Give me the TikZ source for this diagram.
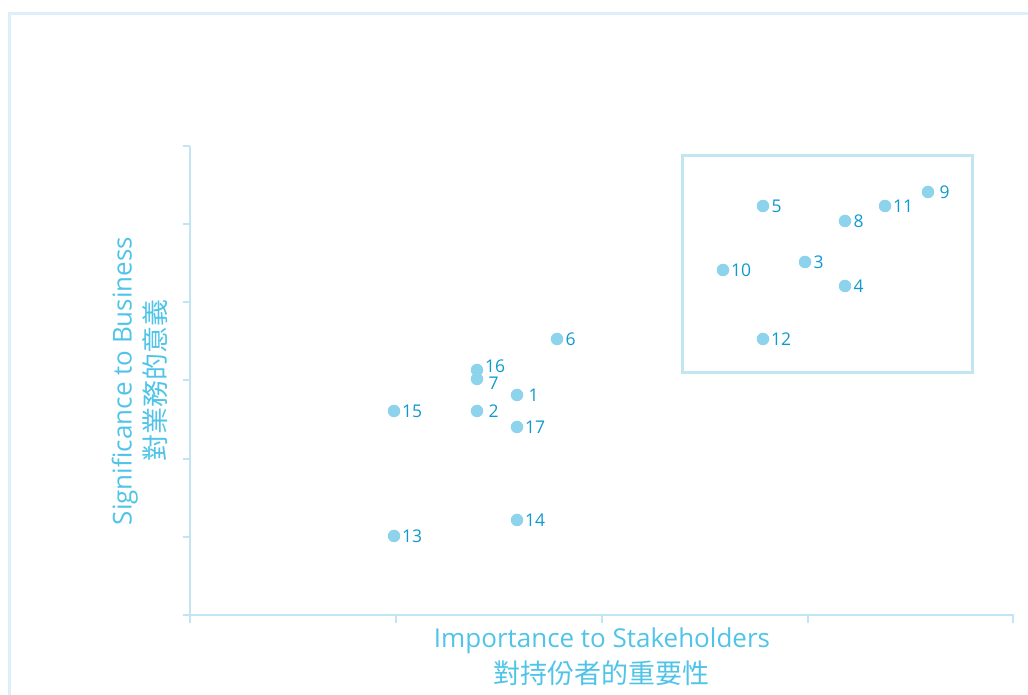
\documentclass[tikz,border=0pt]{standalone}
\usepackage{fontspec}
\setmainfont{Open Sans}
\newfontfamily\cjk{Noto Sans CJK TC}
\usepackage{tikz}
\usetikzlibrary{positioning}
\definecolor{dotblue}{RGB}{141,211,235}
\definecolor{numblue}{RGB}{14,154,206}
\definecolor{titleblue}{RGB}{80,196,232}
\definecolor{axisblue}{RGB}{194,229,243}
\definecolor{frameblue}{RGB}{221,240,249}

\begin{document}
\begin{tikzpicture}[x=1pt,y=1pt]
\tikzstyle{dot}=[circle,fill=dotblue,inner sep=0pt,minimum size=12.5pt]
\tikzstyle{num}=[text=numblue,inner sep=0pt,font=\fontsize{17.5}{19}\selectfont]
\tikzstyle{axis}=[axisblue,line width=2.4pt]
\tikzstyle{title}=[text=titleblue,inner sep=0pt,font=\fontsize{26}{30}\selectfont]
\tikzstyle{titlezh}=[text=titleblue,inner sep=0pt,font=\cjk\fontsize{27}{30}\selectfont]
\useasboundingbox (0,0) rectangle (1028,695);
% outer frame
\draw [frameblue,line width=3pt] (9.5,0) -- (9.5,681.5) -- (1028,681.5);
% axes
\coordinate (origin) at (190,80);
\coordinate (ytop) at (190,549);
\coordinate (xend) at (1013,80);
\draw [axis] (ytop) -- (190,72);
\draw [axis] (183,80) -- (xend) -- (1013,72);
\draw [axis] (183,549) -- (ytop);
\draw [axis] (183,158) -- (190,158) (183,236) -- (190,236) (183,315) -- (190,315)
  (183,393) -- (190,393) (183,471) -- (190,471);
\draw [axis] (396,80) -- (396,72) (602,80) -- (602,72) (808,80) -- (808,72);
% axis titles
\node (xtitle) [title,anchor=base] at (602,47) {Importance to Stakeholders};
\node (xtitlezh) [titlezh] at (601,22) {對持份者的重要性};
\node (ytitle) [title,anchor=base,rotate=90] at (131.5,314) {Significance to Business};
\node (ytitlezh) [titlezh,rotate=90] at (155.5,314) {對業務的意義};
% highlight box
\draw [axisblue,line width=2.4pt] (682.5,322.5) rectangle (972.5,539.5);
% issues
\node (p1) [dot] at (517,300) {};   \node (n1) [num,right=5pt of p1] {1};
\node (p2) [dot] at (477,284) {};   \node (n2) [num,right=5pt of p2] {2};
\node (p3) [dot] at (805,433) {};   \node (n3) [num,right=2pt of p3] {3};
\node (p4) [dot] at (845,409) {};   \node (n4) [num,right=2pt of p4] {4};
\node (p5) [dot] at (763,489) {};   \node (n5) [num,right=2pt of p5] {5};
\node (p6) [dot] at (557,356) {};   \node (n6) [num,right=2pt of p6] {6};
\node (p16) [dot] at (477,325) {};  \node (n16) [num,right=1.5pt of p16,yshift=4pt] {16};
\node (p7) [dot] at (477,316) {};   \node (n7) [num,right=5pt of p7,yshift=-4pt] {7};
\node (p8) [dot] at (845,474) {};   \node (n8) [num,right=2pt of p8] {8};
\node (p9) [dot] at (928,503) {};   \node (n9) [num,right=5pt of p9] {9};
\node (p10) [dot] at (723,425) {};  \node (n10) [num,right=1.5pt of p10] {10};
\node (p11) [dot] at (885,489) {};  \node (n11) [num,right=1.5pt of p11] {11};
\node (p12) [dot] at (763,356) {};  \node (n12) [num,right=1.5pt of p12] {12};
\node (p13) [dot] at (394,159) {};  \node (n13) [num,right=1.5pt of p13] {13};
\node (p14) [dot] at (517,175) {};  \node (n14) [num,right=1.5pt of p14] {14};
\node (p15) [dot] at (394,284) {};  \node (n15) [num,right=1.5pt of p15] {15};
\node (p17) [dot] at (517,268) {};  \node (n17) [num,right=1.5pt of p17] {17};
\end{tikzpicture}
\end{document}
